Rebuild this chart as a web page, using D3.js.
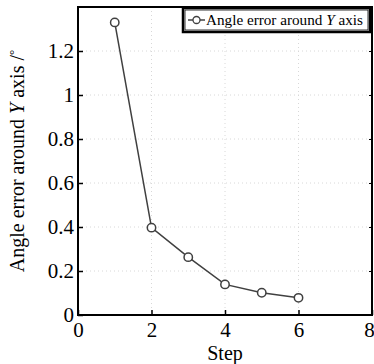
<!DOCTYPE html>
<html>
<head>
<meta charset="utf-8">
<script src="https://cdn.jsdelivr.net/npm/d3@7"></script>
<style>
  body { margin: 0; background: #fff; }
</style>
</head>
<body>
<svg id="myGraph" width="374" height="364"></svg>
<script>
// データ
var steps = [1, 2, 3, 4, 5, 6];
var angleErrY = [1.33, 0.397, 0.263, 0.139, 0.101, 0.078];
var xTicks = [0, 2, 4, 6, 8];
var yTicks = [0, 0.2, 0.4, 0.6, 0.8, 1, 1.2];
var seriesName = "Angle error around ";

var serif = "'Liberation Serif', 'Times New Roman', serif";
var svg = d3.select("#myGraph");
var plotL = 78, plotR = 372, plotT = 7, plotB = 315;

var xScale = d3.scaleLinear().domain([0, 8]).range([plotL, plotR]);
var yScale = d3.scaleLinear().domain([0, 1.4]).range([plotB, plotT]);

// グリッド
var grid = svg.append("g").attr("class", "grid");
grid.selectAll("line.gx").data(xTicks.slice(1, -1)).enter().append("line")
  .attr("x1", function(d){ return xScale(d); })
  .attr("x2", function(d){ return xScale(d); })
  .attr("y1", plotT).attr("y2", plotB)
  .attr("stroke", "#d8d8d8").attr("stroke-dasharray", "1,3");
grid.selectAll("line.gy").data(yTicks.slice(1)).enter().append("line")
  .attr("y1", function(d){ return yScale(d); })
  .attr("y2", function(d){ return yScale(d); })
  .attr("x1", plotL).attr("x2", plotR)
  .attr("stroke", "#d8d8d8").attr("stroke-dasharray", "1,3");

// 軸 (目盛は内向き)
svg.append("g")
  .attr("transform", "translate(0," + plotB + ")")
  .call(d3.axisBottom(xScale).tickValues(xTicks).tickSize(-5).tickPadding(7).tickFormat(d3.format("d")))
  .call(function(g){
    g.select(".domain").remove();
    g.selectAll("line").attr("stroke", "#000").attr("stroke-width", 1.5);
    g.selectAll("text").style("font-family", serif).style("font-size", "21px")
      .attr("dy", "0.71em")
      .attr("dx", function(d){ return d === 8 ? -3 : 0; });
  });

svg.append("g")
  .attr("transform", "translate(" + plotL + ",0)")
  .call(d3.axisLeft(yScale).tickValues(yTicks).tickSize(-5).tickPadding(4)
    .tickFormat(function(d){ return d === 0 ? "0" : (d === 1 ? "1" : d3.format(".1f")(d)); }))
  .call(function(g){
    g.select(".domain").remove();
    g.selectAll("line").attr("stroke", "#000").attr("stroke-width", 1.5);
    g.selectAll("text").style("font-family", serif).style("font-size", "21px");
  });

svg.append("g")
  .attr("transform", "translate(" + plotR + ",0)")
  .call(d3.axisRight(yScale).tickValues(yTicks.slice(1)).tickSize(-3).tickFormat(""))
  .call(function(g){
    g.select(".domain").remove();
    g.selectAll("line").attr("stroke", "#000").attr("stroke-width", 1);
  });

// 枠
svg.append("rect")
  .attr("x", plotL).attr("y", plotT)
  .attr("width", plotR - plotL).attr("height", plotB - plotT)
  .attr("fill", "none").attr("stroke", "#000").attr("stroke-width", 2);

// 折れ線
var pts = steps.map(function(s, i){ return [s, angleErrY[i]]; });
var line = d3.line()
  .x(function(d){ return xScale(d[0]); })
  .y(function(d){ return yScale(d[1]); });

svg.append("path")
  .attr("d", line(pts))
  .attr("fill", "none").attr("stroke", "#404040").attr("stroke-width", 1.5);

svg.selectAll("circle.pt").data(pts).enter().append("circle")
  .attr("cx", function(d){ return xScale(d[0]); })
  .attr("cy", function(d){ return yScale(d[1]); })
  .attr("r", 4.2)
  .attr("fill", "#fff").attr("stroke", "#404040").attr("stroke-width", 1.5);

// 凡例
var lg = svg.append("g");
lg.append("rect").attr("x", 183).attr("y", 8).attr("width", 187).attr("height", 24)
  .attr("fill", "#fff").attr("stroke", "#000").attr("stroke-width", 2.5);
lg.append("rect").attr("x", 185).attr("y", 10).attr("width", 183).attr("height", 20)
  .attr("fill", "none").attr("stroke", "#000").attr("stroke-width", 0.8);
lg.append("line").attr("x1", 188).attr("x2", 205).attr("y1", 20).attr("y2", 20)
  .attr("stroke", "#404040").attr("stroke-width", 1.5);
lg.append("circle").attr("cx", 196.5).attr("cy", 20).attr("r", 3.5)
  .attr("fill", "#fff").attr("stroke", "#404040").attr("stroke-width", 1.3);
var lt = lg.append("text").attr("x", 206).attr("y", 25)
  .style("font-family", serif).style("font-size", "15.2px");
lt.append("tspan").text(seriesName);
lt.append("tspan").attr("font-style", "italic").text("Y");
lt.append("tspan").text(" axis");

// 軸ラベル
svg.append("text")
  .attr("x", xScale(4)).attr("y", 360)
  .attr("text-anchor", "middle")
  .style("font-family", serif).style("font-size", "20px")
  .text("Step");

var yl = svg.append("text")
  .attr("transform", "translate(24," + ((plotT + plotB) / 2) + ") rotate(-90)")
  .attr("text-anchor", "middle")
  .style("font-family", serif).style("font-size", "20px");
yl.append("tspan").text("Angle error around ");
yl.append("tspan").attr("font-style", "italic").text("Y");
yl.append("tspan").text(" axis /");
yl.append("tspan").style("font-size", "13px").attr("dy", "-6").text("°");
</script>
</body>
</html>
